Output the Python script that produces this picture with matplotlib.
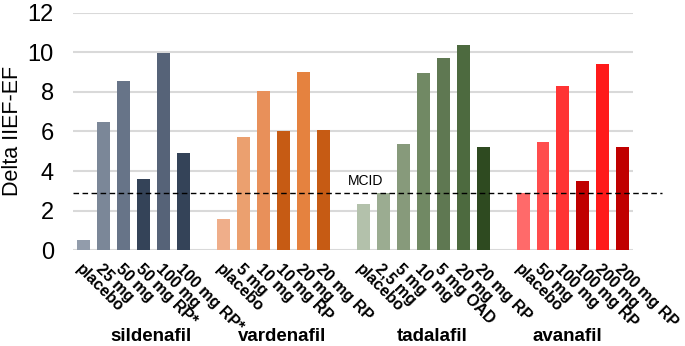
import numpy as np
import matplotlib.pyplot as plt

plt.rcParams['font.family'] = ['Liberation Sans', 'DejaVu Sans']

# drugs and dose arms
drugs = ['sildenafil', 'vardenafil', 'tadalafil', 'avanafil']
arms = [
    ['placebo', '25 mg', '50 mg', '50 mg RP*', '100 mg', '100 mg RP*'],
    ['placebo', '5 mg', '10 mg', '10 mg RP', '20 mg', '20 mg RP'],
    ['placebo', '2,5 mg', '5 mg', '10 mg', '5 mg OAD', '20 mg', '20 mg RP'],
    ['placebo', '50 mg', '100 mg', '100 mg RP', '200 mg', '200 mg RP'],
]
# change in IIEF-EF per arm
delta = [
    [0.5, 6.5, 8.55, 3.62, 9.98, 4.89],
    [1.6, 5.72, 8.04, 6.02, 9.0, 6.1],
    [2.33, 2.87, 5.38, 8.94, 9.73, 10.37, 5.24],
    [2.9, 5.46, 8.28, 3.52, 9.41, 5.24],
]
mcid = 2.87

colors = [
    ['#929cab', '#7b8798', '#677488', '#344358', '#566378', '#344358'],
    ['#efae8a', '#eba06f', '#e8905a', '#c65b14', '#e5823f', '#c65b14'],
    ['#b3c1ab', '#9bac91', '#879a7b', '#718964', '#5f7852', '#4d6a3f', '#2e4a20'],
    ['#ff6a6a', '#ff4d4d', '#ff3434', '#c00000', '#ff1a1a', '#c00000'],
]

fig = plt.figure(figsize=(6.85, 3.46), dpi=100)
ax = fig.add_axes([0.107, 0.277, 0.817, 0.686])

xs, labels = [], []
pos = 0
centers = []
for g in range(len(drugs)):
    x = np.arange(pos, pos + len(arms[g]))
    ax.bar(x, delta[g], width=0.65, color=colors[g], zorder=2)
    xs.extend(x)
    labels.extend(arms[g])
    centers.append(x.mean())
    pos += len(arms[g]) + 1

ax.set_xlim(-0.5, pos - 1.5)
ax.set_ylim(0, 12)
ax.set_yticks(range(0, 13, 2))
ax.grid(axis='y', color='#d9d9d9', linewidth=1.5, zorder=0)
ax.set_axisbelow(True)
for s in ax.spines.values():
    s.set_visible(False)
ax.tick_params(axis='both', length=0)
ax.tick_params(axis='y', labelsize=17, pad=14)
fig.text(0.018, 0.621, 'Delta IIEF-EF', rotation=90, ha='center', va='center',
         fontsize=15.5)

ax.set_xticks(xs)
ax.set_xticklabels(labels, rotation=-45, ha='left', va='top',
                   rotation_mode='anchor', fontsize=11.5, fontweight='bold')
ax.tick_params(axis='x', pad=8)

# MCID threshold runs past the plot area
ax.plot([-0.5, pos - 0.05], [mcid, mcid], 'k--', lw=1, dashes=(4, 2.5),
        clip_on=False, zorder=3)
ax.text(13.25, mcid + 0.4, 'MCID', fontsize=10)

offsets = [0.9, 0.45, 0.45, -0.3]
for g, name in enumerate(drugs):
    ax.text(centers[g] + offsets[g], -4.35, name, ha='center', va='center',
            fontsize=13.5, fontweight='bold')

fig.savefig('out.png', dpi=100)
